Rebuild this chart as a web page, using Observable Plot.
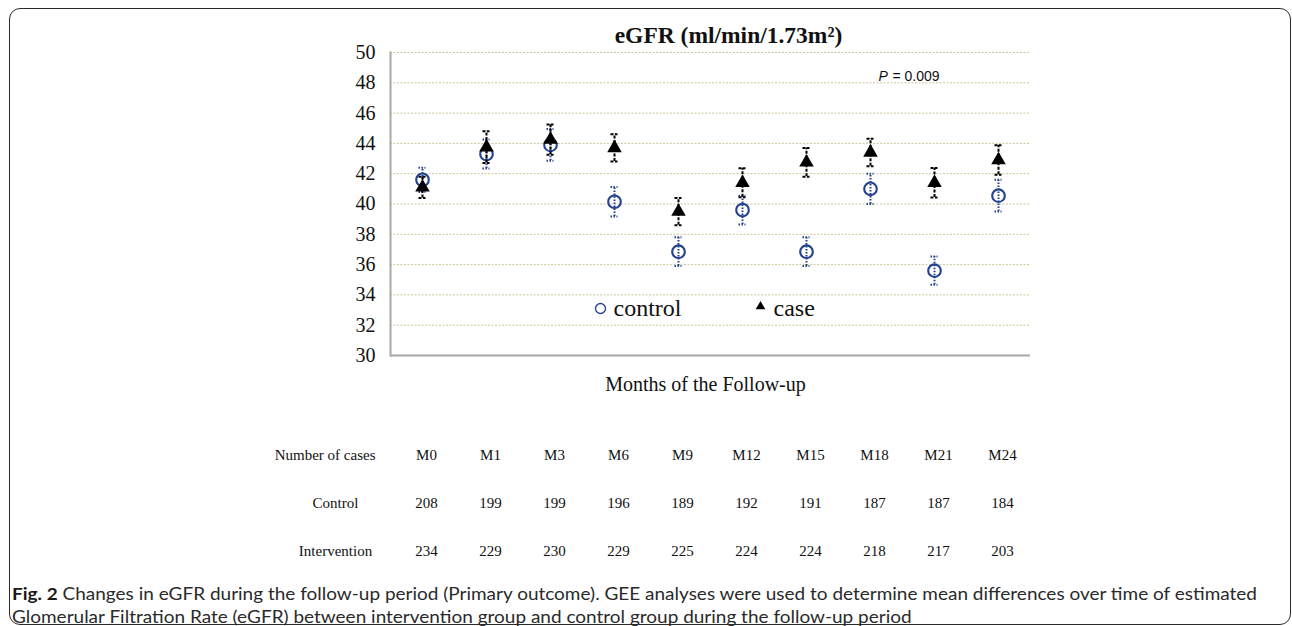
<!DOCTYPE html>
<html><head><meta charset="utf-8">
<script src="https://cdn.jsdelivr.net/npm/d3@7"></script>
<script src="https://cdn.jsdelivr.net/npm/@observablehq/plot@0.6"></script>
<style>
html,body{margin:0;padding:0;width:1292px;height:626px;overflow:hidden;background:#fff;}
#wrap{position:relative;width:1292px;height:626px;}
#frame{position:absolute;left:9px;top:8px;width:1282px;height:617px;border:1.6px solid #2b2b2b;border-radius:11px;box-sizing:border-box;}
#chart{position:absolute;left:0;top:0;}
#table{position:absolute;left:0;top:400px;}
#caption{position:absolute;left:12px;top:582px;font-family:Lato,"Open Sans",sans-serif;color:#2a2a2a;line-height:23px;white-space:nowrap;font-size:17px;}
#caption span{display:inline-block;transform-origin:0 50%;}
#caption b{color:#1a1a1a;}
svg{overflow:visible;}
</style></head>
<body><div id="wrap"><div id="frame"></div><div id="chart"></div><div id="table"></div>
<div id="caption"><span id="l1"><b>Fig. 2</b> Changes in eGFR during the follow-up period (Primary outcome). GEE analyses were used to determine mean differences over time of estimated</span><br><span id="l2">Glomerular Filtration Rate (eGFR) between intervention group and control group during the follow-up period</span></div>
</div>
<script>
const months = ["M0","M1","M3","M6","M9","M12","M15","M18","M21","M24"];
const controlMean = [41.6, 43.3, 43.9, 40.15, 36.85, 39.6, 36.85, 41.0, 35.6, 40.55];
const controlSE   = [0.8, 0.95, 1.05, 0.98, 0.95, 0.95, 0.95, 1.0, 0.93, 1.05];
const caseMean    = [41.1, 43.75, 44.25, 43.7, 39.5, 41.4, 42.75, 43.4, 41.4, 42.9];
const caseSE      = [0.7, 1.05, 1.0, 0.9, 0.9, 0.96, 0.95, 0.9, 0.97, 0.97];
const controlN      = [208,199,199,196,189,192,191,187,187,184];
const interventionN = [234,229,230,229,225,224,224,218,217,203];
const yTicks = [30,32,34,36,38,40,42,44,46,48,50];
const gridTicks = [32,34,36,38,40,42,44,46,48,50];
const rowNames = ["Number of cases","Control","Intervention"];
const title = "eGFR (ml/min/1.73m²)";
const xLabel = "Months of the Follow-up";
const pLabel = "P";
const pValue = "= 0.009";
const legendNames = ["control","case"];

const serif = "'Liberation Serif','Times New Roman',serif";
const sans = "'Liberation Sans',Arial,sans-serif";
const blue = "#24418f";
const capInset = 28.5;

const ctrl = months.map((m,i)=>({month:m, mean:controlMean[i], lo:controlMean[i]-controlSE[i], hi:controlMean[i]+controlSE[i]}));
const cas = months.map((m,i)=>({month:m, mean:caseMean[i], lo:caseMean[i]-caseSE[i], hi:caseMean[i]+caseSE[i]}));

const chart = Plot.plot({
  width:1292, height:400, marginLeft:390, marginRight:262, marginTop:52, marginBottom:45,
  style:{background:"transparent", color:"#111", fontFamily:serif, fontSize:"20px"},
  x:{type:"band", domain:months, padding:0, axis:null},
  y:{domain:[30,50], axis:null},
  marks:[
    Plot.ruleY(gridTicks, {stroke:"#cdc597", strokeWidth:1, strokeDasharray:"2,1.5"}),
    // y tick labels
    Plot.text(yTicks, {y:d=>d, text:d=>String(d), frameAnchor:"left", dx:-15, textAnchor:"end", lineAnchor:"middle", fontSize:20, fontFamily:serif, fill:"#111"}),
    Plot.ruleY([30], {stroke:"#a8a8a8", strokeWidth:2}),
    Plot.frame({anchor:"left", stroke:"#a8a8a8", strokeWidth:2}),
    // control error bars + markers
    Plot.ruleX(ctrl, {x:"month", y1:"lo", y2:"hi", stroke:blue, strokeWidth:2, strokeDasharray:"1.5,1.5"}),
    Plot.tickY(ctrl, {x:"month", y:"lo", insetLeft:capInset, insetRight:capInset, stroke:blue, strokeWidth:2, strokeDasharray:"1.5,1.5"}),
    Plot.tickY(ctrl, {x:"month", y:"hi", insetLeft:capInset, insetRight:capInset, stroke:blue, strokeWidth:2, strokeDasharray:"1.5,1.5"}),
    Plot.dot(ctrl, {x:"month", y:"mean", r:6.3, stroke:blue, strokeWidth:2.1, fill:"none"}),
    // case error bars + markers
    Plot.ruleX(cas, {x:"month", y1:"lo", y2:"hi", stroke:"#000", strokeWidth:2, strokeDasharray:"3,1.5"}),
    Plot.tickY(cas, {x:"month", y:"lo", insetLeft:capInset, insetRight:capInset, stroke:"#000", strokeWidth:2, strokeDasharray:"3,1.5"}),
    Plot.tickY(cas, {x:"month", y:"hi", insetLeft:capInset, insetRight:capInset, stroke:"#000", strokeWidth:2, strokeDasharray:"3,1.5"}),
    Plot.dot(cas, {x:"month", y:"mean", r:5.4, symbol:"triangle", fill:"#000", stroke:"none"}),
    // title, p-value, axis label
    Plot.text([title], {text:d=>d, frameAnchor:"top", dx:18, dy:-10, lineAnchor:"bottom", fontSize:23.5, fontWeight:"bold", fontFamily:serif, fill:"#111"}),
    Plot.text([pLabel], {text:d=>d, frameAnchor:"top-left", dx:488, dy:28, lineAnchor:"bottom", textAnchor:"start", fontSize:14, fontStyle:"italic", fontFamily:sans, fill:"#111"}),
    Plot.text([pValue], {text:d=>d, frameAnchor:"top-left", dx:502, dy:28, lineAnchor:"bottom", textAnchor:"start", fontSize:14, fontFamily:sans, fill:"#111"}),
    Plot.text([xLabel], {text:d=>d, frameAnchor:"bottom", dx:-5, dy:35, lineAnchor:"bottom", fontSize:20, fontFamily:serif, fill:"#111"}),
    // legend
    Plot.dot([legendNames[0]], {frameAnchor:"top-left", dx:210, dy:256, r:5, stroke:blue, strokeWidth:1.3, fill:"none"}),
    Plot.text([legendNames[0]], {text:d=>d, frameAnchor:"top-left", dx:223, dy:263, lineAnchor:"bottom", textAnchor:"start", fontSize:24, fontFamily:serif, fill:"#111"}),
    Plot.dot([legendNames[1]], {frameAnchor:"top-left", dx:370, dy:254, r:3.6, symbol:"triangle", fill:"#000"}),
    Plot.text([legendNames[1]], {text:d=>d, frameAnchor:"top-left", dx:383, dy:263, lineAnchor:"bottom", textAnchor:"start", fontSize:24, fontFamily:serif, fill:"#111"})
  ]
});
document.getElementById("chart").appendChild(chart);

const cells = [
  ...months.map((m,i)=>({row:rowNames[0], month:m, label:m})),
  ...months.map((m,i)=>({row:rowNames[1], month:m, label:String(controlN[i])})),
  ...months.map((m,i)=>({row:rowNames[2], month:m, label:String(interventionN[i])}))
];
const table = Plot.plot({
  width:1292, height:170, marginLeft:390, marginRight:262, marginTop:59, marginBottom:15,
  style:{background:"transparent", color:"#111", fontFamily:serif, fontSize:"15px"},
  x:{type:"band", domain:months, padding:0, axis:null},
  y:{type:"point", domain:rowNames, padding:0, axis:null},
  marks:[
    Plot.text(cells, {x:"month", y:"row", text:"label", dx:4, lineAnchor:"bottom", fontSize:15, fontFamily:serif, fill:"#111"}),
    Plot.text([rowNames[0]], {y:d=>d, text:d=>d, frameAnchor:"left", dx:-15, textAnchor:"end", lineAnchor:"bottom", fontSize:15, fontFamily:serif, fill:"#111"}),
    Plot.text(rowNames.slice(1), {y:d=>d, text:d=>d, frameAnchor:"left", dx:-55, textAnchor:"middle", lineAnchor:"bottom", fontSize:15, fontFamily:serif, fill:"#111"})
  ]
});
document.getElementById("table").appendChild(table);

// squeeze caption horizontally so the first line spans the reference width
const l1 = document.getElementById("l1"), l2 = document.getElementById("l2");
const k = 1245 / l1.getBoundingClientRect().width;
l1.style.transform = `scaleX(${k})`;
l2.style.transform = `scaleX(${k})`;
</script></body></html>
